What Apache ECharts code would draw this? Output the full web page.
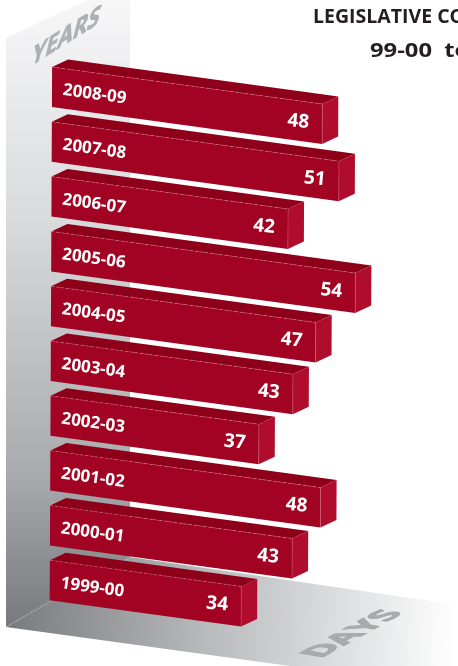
<!DOCTYPE html>
<html><head><meta charset="utf-8">
<style>html,body{margin:0;padding:0;background:#fff;overflow:hidden}#c{width:458px;height:666px}</style>
<script src="https://cdn.jsdelivr.net/npm/echarts@6/dist/echarts.min.js"></script>
</head><body><div id="c"></div>
<script>
const years = ['2008-09','2007-08','2006-07','2005-06','2004-05','2003-04','2002-03','2001-02','2000-01','1999-00'];
const days = [48,51,42,54,47,43,37,48,43,34];
const titleLines = ['LEGISLATIVE CO','99-00  to'];
const axisNames = ['YEARS','DAYS'];

const FONT = '"Open Sans","Noto Sans",sans-serif';
const SLOPE = 0.137, LEAN = 0.0045, X0 = 52, Y0 = 87;
const BAR_H = 40, DEPTH_X = 16, DEPTH_Y = -7.5;
function shear(p){ return [p[0] - LEAN*(p[1]-Y0), p[1] + SLOPE*(p[0]-X0)]; }

function renderBar(params, api){
  const i = api.value(0), v = api.value(1);
  const a = api.coord([0, i]), b = api.coord([v, i]);
  const top = a[1]-BAR_H/2, bot = a[1]+BAR_H/2;
  const tl = shear([a[0],top]), tr = shear([b[0],top]), br = shear([b[0],bot]), bl = shear([a[0],bot]);
  const back = p => [p[0]+DEPTH_X, p[1]+DEPTH_Y];
  const rot = -Math.atan(SLOPE);
  const yl = shear([a[0]+11, a[1]+1.5]), vl = shear([b[0]-24, a[1]+1]);
  return {type:'group', children:[
    {type:'polygon', shape:{points:[tl,tr,back(tr),back(tl)]}, style:{fill:'#8e0019'}},
    {type:'polygon', shape:{points:[tr,br,back(br),back(tr)]}, style:{fill:'#b00c2c'}},
    {type:'polygon', shape:{points:[tl,tr,br,bl]}, style:{fill:'#a30322'}},
    {type:'polyline', shape:{points:[tl,tr]}, style:{stroke:'rgba(245,170,185,0.6)', lineWidth:0.6, lineDash:[3,2], fill:null}},
    {type:'polyline', shape:{points:[tr,br]}, style:{stroke:'rgba(245,170,185,0.45)', lineWidth:0.5, fill:null}},
    {type:'text', x:yl[0], y:yl[1], rotation:rot, style:{text:years[i], fill:'#fff', font:'bold 17px '+FONT, align:'left', verticalAlign:'middle'}},
    {type:'text', x:vl[0], y:vl[1], rotation:rot*0.7, style:{text:String(days[i]), fill:'#fff', font:'bold 19px '+FONT, align:'center', verticalAlign:'middle'}}
  ]};
}

const chart = echarts.init(document.getElementById('c'), null, {renderer:'canvas', width:458, height:666});
chart.setOption({
  animation:false,
  backgroundColor:'#fff',
  grid:{left:52, top:59.6, width:337.8, height:548},
  xAxis:{type:'value', min:0, max:60, show:false},
  yAxis:{type:'category', data:years, inverse:true, show:false},
  graphic:[
    {type:'polygon', z:0, shape:{points:[[6,38],[87,0],[130,0],[130,557],[6,627]]},
     style:{fill:{type:'linear',x:0,y:0,x2:0,y2:1,colorStops:[{offset:0,color:'#f7f7f8'},{offset:0.35,color:'#d9dadc'},{offset:0.75,color:'#a9abae'},{offset:1,color:'#77797c'}]}}},
    {type:'polygon', z:0, shape:{points:[[6,627],[130,557],[458,605],[458,666],[290,666]]},
     style:{fill:{type:'linear',x:0,y:0,x2:1,y2:0.15,colorStops:[{offset:0,color:'#77797c'},{offset:0.45,color:'#b8babc'},{offset:0.8,color:'#e4e5e6'},{offset:1,color:'#ffffff'}]}}},
    {type:'polyline', z:1, shape:{points:[[6,627],[49,601]]}, style:{stroke:'#c9cacc', lineWidth:0.6, lineDash:[2,2], fill:null}},
    {type:'text', z:1, x:66, y:37, rotation:0.56, scaleY:0.79, skewX:-0.8, style:{text:axisNames[0], fill:'#aeb1b4', stroke:'#9a9da1', lineWidth:0.6, font:'bold 26px '+FONT, align:'center', verticalAlign:'middle'}},
    {type:'text', z:1, x:353, y:634, rotation:0.5, scaleX:1.15, scaleY:0.64, skewX:0.9, style:{text:axisNames[1], fill:'#a8aaad', stroke:'#a2a4a7', lineWidth:1.4, font:'bold 32px '+FONT, align:'center', verticalAlign:'middle'}},
    {type:'text', z:1, x:313, y:17, style:{text:titleLines[0], fill:'#231f20', font:'bold 19.5px '+FONT, align:'left', verticalAlign:'middle'}},
    {type:'text', z:1, x:370, y:52, scaleX:1.25, style:{text:titleLines[1], fill:'#231f20', font:'bold 19px '+FONT, align:'left', verticalAlign:'middle'}}
  ],
  series:[{type:'custom', z:5, coordinateSystem:'cartesian2d', clip:false,
    encode:{x:1,y:0}, data:days.map((d,i)=>[i,d]), renderItem:renderBar}]
});
</script></body></html>
